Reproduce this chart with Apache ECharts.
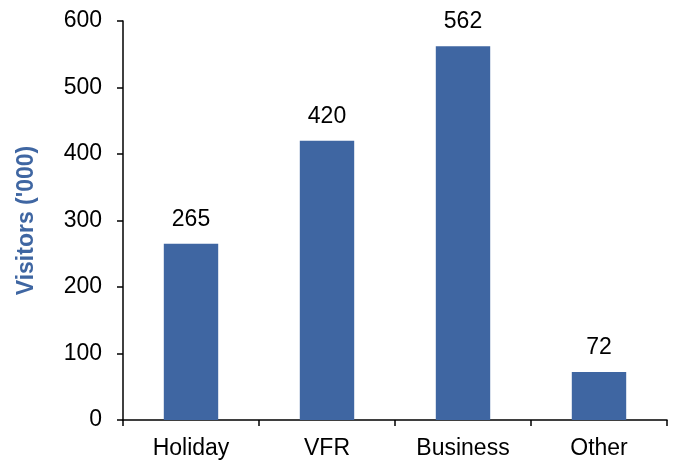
<!DOCTYPE html>
<html>
<head>
<meta charset="utf-8">
<script src="https://cdn.jsdelivr.net/npm/echarts@6/dist/echarts.min.js"></script>
<style>html,body{margin:0;padding:0;background:#fff}#c{width:675px;height:461px}</style>
</head>
<body>
<div id="c"></div>
<script>
var categories = ['Holiday', 'VFR', 'Business', 'Other'];
var visitors = [265, 420, 562, 72];
var yTicks = [0, 100, 200, 300, 400, 500, 600];

var chart = echarts.init(document.getElementById('c'), null, {renderer: 'canvas'});
var font = 'Liberation Sans, Arial, sans-serif';
chart.setOption({
  animation: false,
  grid: {left: 123, right: 8, top: 21, bottom: 41},
  xAxis: {
    type: 'category',
    data: categories,
    axisLine: {lineStyle: {color: '#000', width: 1.5}},
    axisTick: {show: true, length: 6, alignWithLabel: false, lineStyle: {color: '#000', width: 1.5}},
    axisLabel: {color: '#000', fontSize: 23, fontFamily: font, margin: 17}
  },
  yAxis: {
    type: 'value',
    min: yTicks[0],
    max: yTicks[yTicks.length - 1],
    interval: 100,
    name: "Visitors ('000)",
    nameLocation: 'middle',
    nameGap: 85,
    nameTextStyle: {color: '#3F66A2', fontSize: 23, fontWeight: 'bold', fontFamily: font},
    axisLine: {show: true, lineStyle: {color: '#000', width: 1.5}},
    axisTick: {show: true, length: 6, lineStyle: {color: '#000', width: 1.5}},
    axisLabel: {color: '#000', fontSize: 23, fontFamily: font, margin: 21},
    splitLine: {show: false}
  },
  series: [{
    type: 'bar',
    data: visitors,
    barWidth: '40%',
    itemStyle: {color: '#3F66A2'},
    label: {show: true, position: 'top', distance: 13, color: '#000', fontSize: 23, fontFamily: font}
  }]
});
</script>
</body>
</html>
